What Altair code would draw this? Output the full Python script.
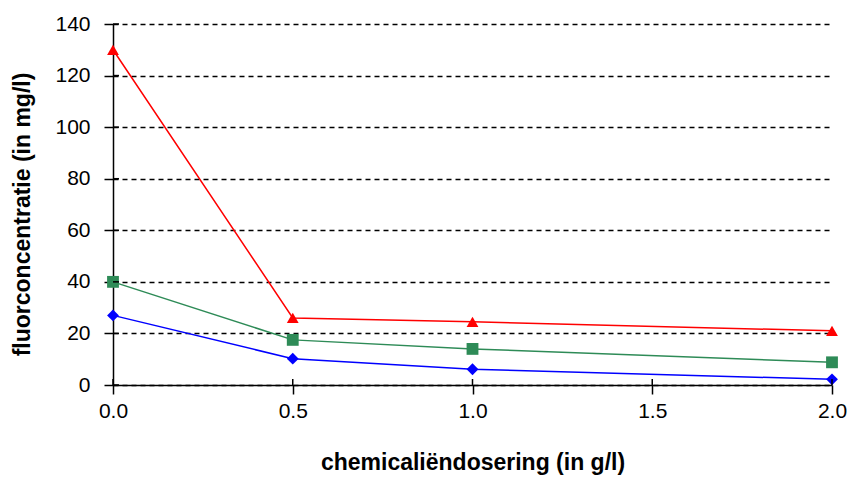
import altair as alt
import pandas as pd

doses = [0.0, 0.5, 1.0, 2.0]
red_vals = [130, 26, 24.5, 21]
green_vals = [40, 17.5, 14, 8.8]
blue_vals = [27, 10.2, 6.1, 2.2]
series_names = ["rood", "groen", "blauw"]
colors = ["#ff0000", "#2e8b57", "#0000ff"]
shapes = ["triangle-up", "square", "diamond"]
x_ticks = [0.0, 0.5, 1.0, 1.5, 2.0]
y_ticks = list(range(0, 141, 20))

rows = []
for name, vals in zip(series_names, [red_vals, green_vals, blue_vals]):
    for d, v in zip(doses, vals):
        rows.append({"dose": d, "value": v, "series": name})
df = pd.DataFrame(rows)

FONT = "Liberation Sans"
W, H = 719, 361

xs = alt.Scale(domain=[0, 2], nice=False)
ys = alt.Scale(domain=[0, 140], nice=False)

x = alt.X("dose:Q", scale=xs,
          axis=alt.Axis(title="chemicaliëndosering (in g/l)", values=x_ticks,
                        format=".1f", grid=False, tickSize=9, labelPadding=6,
                        labelFlush=False, titlePadding=30))
y = alt.Y("value:Q", scale=ys,
          axis=alt.Axis(title="fluorconcentratie (in mg/l)", values=y_ticks,
                        grid=True, gridDash=[5, 4], gridColor="#000000", gridOpacity=1,
                        gridWidth=1.5, tickSize=9, labelPadding=14, titlePadding=20,
                        titleY=190))
color = alt.Color("series:N", scale=alt.Scale(domain=series_names, range=colors), legend=None)
shape = alt.Shape("series:N", scale=alt.Scale(domain=series_names, range=shapes), legend=None)

base = alt.Chart(df)
lines = base.mark_line(strokeWidth=1.5).encode(x=x, y=y, color=color, detail="series:N")
points = base.mark_point(filled=True, size=140, opacity=1).encode(x=x, y=y, color=color, shape=shape)

# inner parts of the crossing tick marks
ytick_df = pd.DataFrame({"v": y_ticks})
xtick_df = pd.DataFrame({"d": x_ticks})
ytick_in = alt.Chart(ytick_df).mark_rule(color="#000000", strokeWidth=1.5).encode(
    y=alt.Y("v:Q", scale=ys), x=alt.value(0), x2=alt.value(6))
xtick_in = alt.Chart(xtick_df).mark_rule(color="#000000", strokeWidth=1.5).encode(
    x=alt.X("d:Q", scale=xs), y=alt.value(H), y2=alt.value(H - 6))

chart = (lines + points + ytick_in + xtick_in).properties(
    width=W, height=H,
    autosize=alt.AutoSizeParams(type="none"),
    padding={"left": 113, "top": 24, "right": 18, "bottom": 94},
    background="#ffffff",
).configure_view(stroke=None).configure_axis(
    domainColor="#000000", domainWidth=1.5, tickColor="#000000", tickWidth=1.5,
    labelFont=FONT, labelFontSize=21, labelColor="#000000",
    titleFont=FONT, titleFontSize=23, titleFontWeight="bold", titleColor="#000000",
)

chart.save("out.html", embed_options={"renderer": "svg", "actions": False})
